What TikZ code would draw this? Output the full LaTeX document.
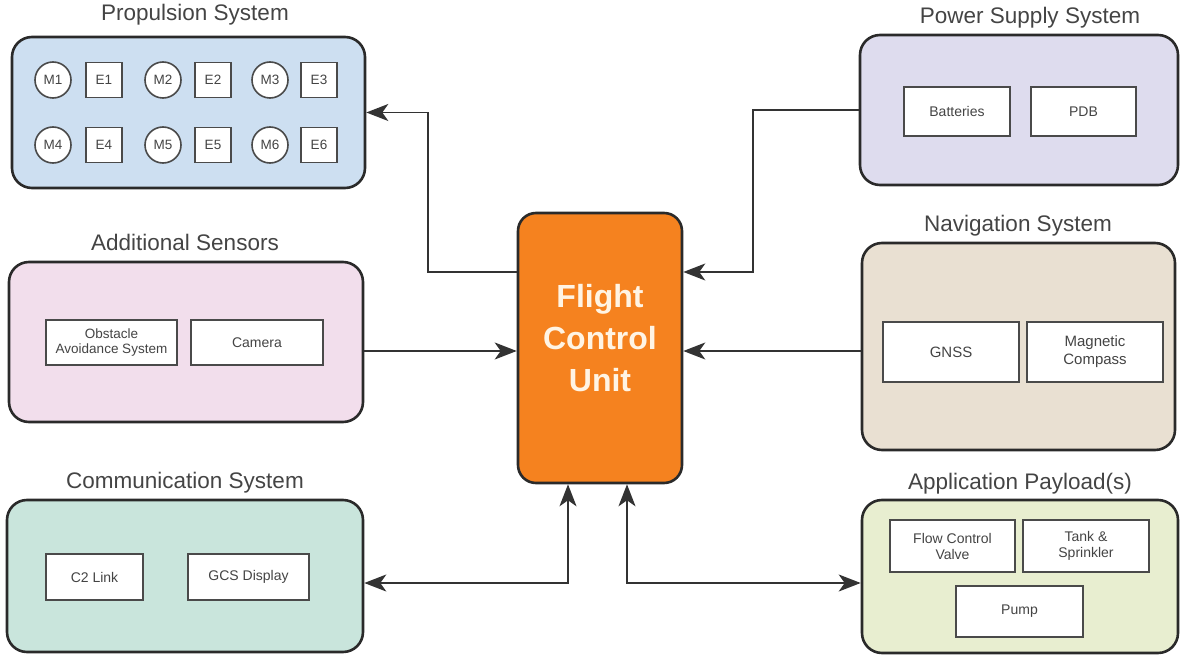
\documentclass[tikz,border=0pt]{standalone}
\usepackage{fontspec}
\setmainfont{Liberation Sans}
\usetikzlibrary{arrows.meta,calc}
\definecolor{bdr}{HTML}{2A2A2A}
\definecolor{ibdr}{HTML}{4A4A4A}
\definecolor{lin}{HTML}{333333}
\definecolor{txt}{HTML}{444444}
\definecolor{cprop}{HTML}{CDDFF1}
\definecolor{cpow}{HTML}{DEDCEE}
\definecolor{csens}{HTML}{F2DEEC}
\definecolor{cnav}{HTML}{E9E0D2}
\definecolor{ccomm}{HTML}{C9E5DC}
\definecolor{capp}{HTML}{E8EED0}
\definecolor{cfcu}{HTML}{F5821F}
\definecolor{cfcutext}{HTML}{FFF4E4}
\begin{document}
\begin{tikzpicture}[x=1pt,y=-1pt,
  group/.style={draw=bdr, line width=2.6pt, rounded corners=20pt, inner sep=0pt},
  title/.style={text=txt, font=\fontsize{22.5}{24}\selectfont, inner sep=0pt},
  item/.style={draw=ibdr, fill=white, line width=2pt, text=txt, font=\fontsize{14}{16}\selectfont, align=center, inner sep=0pt},
  motor/.style={circle, draw=ibdr, fill=white, line width=1.6pt, minimum size=36pt, inner sep=0pt, font=\fontsize{13.5}{14}\selectfont, text=txt},
  esc/.style={rectangle, draw=ibdr, fill=white, line width=1.6pt, minimum width=36pt, minimum height=35pt, inner sep=0pt, font=\fontsize{13.5}{14}\selectfont, text=txt},
  conn/.style={draw=lin, line width=1.8pt},
  tip/.tip={Stealth[length=22pt,width=17pt,inset=6pt]},
  arr/.style={conn, -tip},
  darr/.style={conn, tip-tip}
]
\useasboundingbox (0,0) rectangle (1180,655);

% group boxes
\node[group, fill=cprop, minimum width=353pt, minimum height=151pt] (prop) at (188.5,112.5) {};
\node[group, fill=cpow,  minimum width=318pt, minimum height=150pt] (pow)  at (1019,110) {};
\node[group, fill=csens, minimum width=354pt, minimum height=160pt] (sens) at (186,342) {};
\node[group, fill=cnav,  minimum width=313pt, minimum height=207pt] (nav)  at (1018.5,346.5) {};
\node[group, fill=ccomm, minimum width=356pt, minimum height=152pt] (comm) at (185,576) {};
\node[group, fill=capp,  minimum width=316pt, minimum height=153pt] (app)  at (1020,576.5) {};
\node[draw=bdr, line width=2.6pt, rounded corners=18pt, fill=cfcu, minimum width=164pt, minimum height=270pt, inner sep=0pt] (fcu) at (600,348) {};
\node[text=cfcutext, font=\fontsize{32}{42}\selectfont\bfseries, align=center, inner sep=0pt] (fcut) at (600,338) {Flight\\Control\\Unit};

% titles
\node[title] (tprop) at (195,15) {Propulsion System};
\node[title] (tpow)  at (1030,18) {Power Supply System};
\node[title] (tsens) at (185,242) {Additional Sensors};
\node[title] (tnav)  at (1018,226) {Navigation System};
\node[title] (tcomm) at (185,483) {Communication System};
\node[title] (tapp)  at (1020,484) {Application Payload(s)};

% propulsion items
\node[motor] (m1) at (53,80) {M1};
\node[esc]   (e1) at (104,80) {E1};
\node[motor] (m2) at (163,80) {M2};
\node[esc]   (e2) at (213,80) {E2};
\node[motor] (m3) at (270,80) {M3};
\node[esc]   (e3) at (319,80) {E3};
\node[motor] (m4) at (53,145) {M4};
\node[esc]   (e4) at (104,145) {E4};
\node[motor] (m5) at (163,145) {M5};
\node[esc]   (e5) at (213,145) {E5};
\node[motor] (m6) at (270,145) {M6};
\node[esc]   (e6) at (319,145) {E6};

% inner items
\node[item, minimum width=106pt, minimum height=49pt] (bat) at (957,111.5) {Batteries};
\node[item, minimum width=105pt, minimum height=49pt] (pdb) at (1083.5,111.5) {PDB};
\node[item, minimum width=131pt, minimum height=45pt, font=\fontsize{13.5}{15}\selectfont] (obs) at (111.5,342.5) {Obstacle\\Avoidance System};
\node[item, minimum width=132pt, minimum height=45pt] (cam) at (257,342.5) {Camera};
\node[item, minimum width=136pt, minimum height=60pt, font=\fontsize{15}{18}\selectfont] (gnss) at (951,352) {GNSS};
\node[item, minimum width=136pt, minimum height=60pt, font=\fontsize{15}{18}\selectfont] (mag) at (1095,352) {Magnetic\\Compass};
\node[item, minimum width=97pt, minimum height=46pt] (c2) at (94.5,577) {C2 Link};
\node[item, minimum width=121pt, minimum height=46pt] (gcs) at (248.5,577) {GCS Display};
\node[item, minimum width=125pt, minimum height=52pt] (flow) at (952.5,546) {Flow Control\\Valve};
\node[item, minimum width=126pt, minimum height=52pt] (tank) at (1086,546) {Tank \&\\Sprinkler};
\node[item, minimum width=127pt, minimum height=51pt] (pump) at (1019.5,611.5) {Pump};

% connectors
\coordinate (b1) at (428,272);
\coordinate (b2) at (753,272);
\coordinate (b3) at (440,351);
\coordinate (b4) at (568,583);
\coordinate (b5) at (627,583);

\draw[arr] (b1 -| fcu.west) -- (b1) |- (prop.east);
\draw[arr] (pow.west) -| (b2) -- (b2 -| fcu.east);
\draw[arr] (b3 -| sens.east) -- (b3 -| fcu.west);
\draw[arr] (b3 -| nav.west) -- (b3 -| fcu.east);
\draw[darr] (b4 -| comm.east) -- (b4) -- (b4 |- fcu.south);
\draw[darr] (b5 |- fcu.south) -- (b5) -- (b5 -| app.west);
\end{tikzpicture}
\end{document}
